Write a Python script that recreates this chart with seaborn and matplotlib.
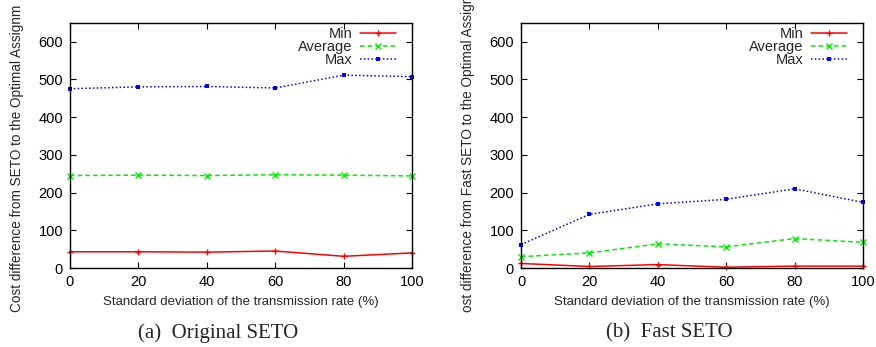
import matplotlib
matplotlib.use("Agg")
import matplotlib.pyplot as plt
import seaborn as sns
import pandas as pd

# ---- data ----
std_dev = [0, 20, 40, 60, 80, 100]
orig_min = [43, 43, 42, 45, 31, 40]
orig_avg = [245, 246, 245, 247, 246, 244]
orig_max = [475, 480, 481, 477, 511, 507]
fast_min = [12, 4, 9, 2, 5, 5]
fast_avg = [30, 40, 64, 56, 78, 68]
fast_max = [62, 142, 170, 182, 210, 174]
series_names = ["Min", "Average", "Max"]
x_ticks = [0, 20, 40, 60, 80, 100]
y_ticks = [0, 100, 200, 300, 400, 500, 600]
x_label = "Standard deviation of the transmission rate (%)"
# y labels as visible in the reference (cut at the figure edge there)
y_label_a = "Cost difference from SETO to the Optimal Assignm"
y_label_b = "ost difference from Fast SETO to the Optimal Assigr"
caption_a = "(a)  Original SETO"
caption_b = "(b)  Fast SETO"

sns.set_style("ticks")
plt.rcParams["font.family"] = ["Liberation Sans", "DejaVu Sans"]

styles = {
    "Min": dict(color="#ff0000", linestyle="-", marker="+", markersize=5, markeredgewidth=1),
    "Average": dict(color="#00ee00", linestyle=(0, (3, 2)), marker="x", markersize=4, markeredgewidth=1),
    "Max": dict(color="#0000ff", linestyle=(0, (1, 1.5)), marker="s", markersize=3, markeredgewidth=0),
}

W, H = 876, 347
fig = plt.figure(figsize=(W / 100, H / 100), dpi=100)
ax_a = fig.add_axes([70 / W, (347 - 268) / H, 342 / W, 245.3 / H])
ax_b = fig.add_axes([521 / W, (347 - 268) / H, 342 / W, 245.3 / H])


def draw(ax, mins, avgs, maxs, ylabel, label_y):
    df = pd.DataFrame({
        "x": std_dev * 3,
        "y": mins + avgs + maxs,
        "series": [s for s in series_names for _ in std_dev],
    })
    for name in series_names:
        sub = df[df["series"] == name]
        st = styles[name]
        sns.lineplot(data=sub, x="x", y="y", ax=ax, label=name, color=st["color"],
                     linestyle=st["linestyle"], marker=st["marker"],
                     markersize=st["markersize"], markeredgewidth=st["markeredgewidth"],
                     markeredgecolor=st["color"], linewidth=1.1, clip_on=False)
    ax.set_xlim(0, 100)
    ax.set_ylim(0, 650)
    ax.set_xticks(x_ticks)
    ax.set_yticks(y_ticks)
    ax.tick_params(direction="in", top=True, right=True, length=4, width=0.8,
                   labelsize=10.5, colors="black", pad=5)
    for sp in ax.spines.values():
        sp.set_linewidth(1.0)
        sp.set_color("black")
    ax.set_xlabel(x_label, fontsize=9.5, labelpad=5)
    ax.set_ylabel(ylabel, fontsize=9.8)
    ax.yaxis.set_label_coords(-0.155, label_y)
    ax.yaxis.label.set_va("center")
    ax.legend(loc="upper right", frameon=False, markerfirst=False, fontsize=10.5,
              handlelength=2.5, handletextpad=0.5, labelspacing=-0.05,
              borderpad=0.0, borderaxespad=0.0,
              bbox_to_anchor=(1 - 16 / 342, 1 - 4 / 245.3))


draw(ax_a, orig_min, orig_avg, orig_max, y_label_a, 0.446)
draw(ax_b, fast_min, fast_avg, fast_max, y_label_b, 0.459)

fig.text(218 / W, 1 - 333 / H, caption_a, ha="center", va="center",
         fontsize=15, family=["Liberation Serif", "DejaVu Serif"])
fig.text(669 / W, 1 - 333 / H, caption_b, ha="center", va="center",
         fontsize=15, family=["Liberation Serif", "DejaVu Serif"])

fig.savefig("out.png", dpi=100)
